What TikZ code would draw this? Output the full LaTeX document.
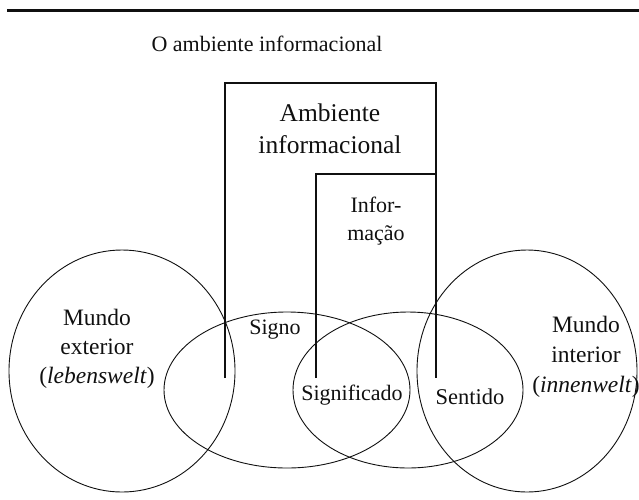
\documentclass[tikz,border=0pt]{standalone}
\usepackage{fontspec}
\setmainfont{Liberation Serif}
\usetikzlibrary{calc}
\definecolor{tinta}{RGB}{16,16,16}

\tikzset{
  rotulo/.style={tinta,align=center,inner sep=0pt,font=\fontsize{22}{29}\selectfont},
  caixa/.style={tinta,line width=1.3pt},
  mundo/.style={tinta,line width=0.9pt},
}

\begin{document}
\begin{tikzpicture}[x=1pt,y=-1pt]

    \useasboundingbox (0,0) rectangle (639,499);

    % fio superior

    \draw[tinta,line width=3pt] (7,10) -- (639,10);

    % título

    \node[rotulo,font=\fontsize{22}{26}\selectfont] (titulo) at (267,44) {O ambiente informacional};

    % mundo exterior e mundo interior

    \draw[mundo] (122,371) circle [x radius=113pt,y radius=121pt];
    \draw[mundo] (527,371) circle [x radius=110pt,y radius=121pt];

    % signo e significado

    \draw[mundo] (287,390) circle [x radius=123pt,y radius=78pt];
    \draw[mundo] (408,390) circle [x radius=115pt,y radius=78pt];

    % caixas abertas do ambiente e da informação

    \draw[caixa] (225,378) -- (225,83) -- (436,83) -- (436,378);
    \draw[caixa] (316,378) -- (316,174) -- (436,174);

    % textos

    \node[rotulo,font=\fontsize{25.5}{32}\selectfont] (ambiente) at (330,129) {Ambiente\\informacional};
    \node[rotulo,font=\fontsize{22}{28}\selectfont] (informacao) at (376,221) {Infor-\\mação};
    \node[rotulo,font=\fontsize{23.5}{29}\selectfont] (exterior) at (97,349) {Mundo\\exterior\\(\textit{lebenswelt})};
    \node[rotulo,font=\fontsize{23.5}{30}\selectfont] (interior) at (586,357) {Mundo\\interior\\(\textit{innenwelt})};
    \node[rotulo] (signo) at (275,330) {Signo};
    \node[rotulo] (significado) at (352,395) {Significado};
    \node[rotulo,font=\fontsize{22.5}{29}\selectfont] (sentido) at (470,397) {Sentido};

  \end{tikzpicture}
\end{document}
